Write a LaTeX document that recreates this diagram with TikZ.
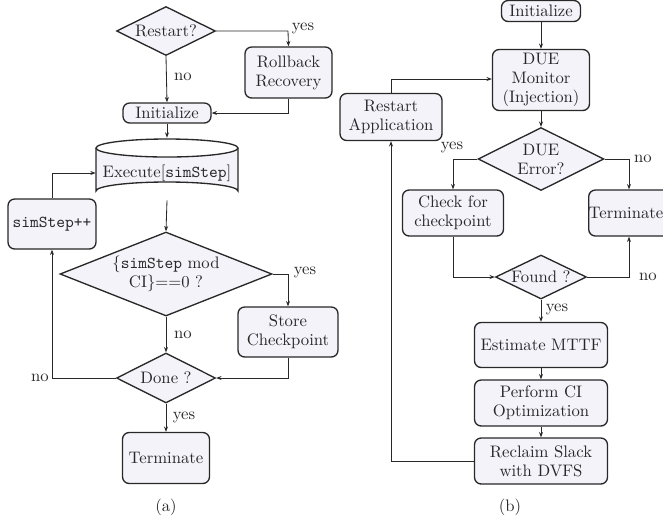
\documentclass[tikz,border=0pt]{standalone}
\usetikzlibrary{shapes.geometric,arrows.meta,calc}
\definecolor{boxfill}{RGB}{243,243,249}
\definecolor{ink}{RGB}{40,40,40}
\newlength\pxu
\setlength\pxu{0.6pt}
\begin{document}
\begin{tikzpicture}[x=0.6pt,y=-0.6pt,
  every node/.style={font=\fontsize{10}{11.4}\selectfont, text=ink},
  box/.style={draw=ink, fill=boxfill, rounded corners=4pt, line width=0.8pt, align=center, inner sep=0pt},
  dia/.style={draw=ink, fill=boxfill, diamond, line width=0.8pt, align=center, inner sep=0pt},
  conn/.style={draw=ink, line width=0.5pt, -{Stealth[length=3.2pt,width=2.4pt]}},
  lbl/.style={inner sep=0pt}]
\useasboundingbox (0,0) rectangle (663,521);

% ---------------- (a) ----------------
\node[dia, aspect=2, minimum width=99\pxu, minimum height=49\pxu] (restart) at (166,31) {Restart?};
\node[box, minimum width=87\pxu, minimum height=51\pxu] (rollback) at (288.5,72.5) {Rollback\\Recovery};
\node[box, minimum width=88\pxu, minimum height=20\pxu] (init1) at (167,113) {Initialize};
\node[minimum width=142\pxu, minimum height=62\pxu, inner sep=0pt] (exec) at (167,169) {};
\fill[boxfill] (96,148) -- (96,191) arc[start angle=180,end angle=360,x radius=71,y radius=9] -- (238,148) arc[start angle=0,end angle=180,x radius=71,y radius=9] -- cycle;
\draw[ink, line width=0.8pt] (167,148) ellipse[x radius=71,y radius=9];
\draw[ink, line width=0.8pt] (96,148) -- (96,191) arc[start angle=180,end angle=360,x radius=71,y radius=9] -- (238,148);
\node[lbl] (exectext) at (167,173) {Execute[\texttt{simStep}]};
\node[box, minimum width=88\pxu, minimum height=50\pxu] (simstep) at (52,224) {\texttt{simStep++}};
\node[dia, aspect=2.5, minimum width=212\pxu, minimum height=84\pxu] (mod) at (166,274) {\{\texttt{simStep} mod\\CI\}==0 ?};
\node[box, minimum width=100\pxu, minimum height=50\pxu] (store) at (288,332) {Store\\Checkpoint};
\node[dia, aspect=2, minimum width=99\pxu, minimum height=50\pxu] (done) at (166,378) {Done ?};
\node[box, minimum width=87\pxu, minimum height=51\pxu] (term1) at (166,458) {Terminate};
\node[lbl] (capa) at (166,507) {(a)};

\coordinate (rbx) at (288,31);
\draw[conn] (restart.east) -- (rbx) -- (rollback.north);
\node[lbl] at (303,28) {yes};
\draw[conn] (restart.south) -- (init1.north);
\node[lbl] at (183,77) {no};
\draw[conn] (rollback.south) |- (init1.east);
\draw[conn] (init1.south) -- (exec.north);
\draw[conn] (simstep.north) |- (exectext.west -| exec.west);
\draw[conn] (exec.south) -- (mod.north);
\draw[conn] (mod.east) -| (store.north);
\node[lbl] at (305,272) {yes};
\draw[conn] (mod.south) -- (done.north);
\node[lbl] at (183,335) {no};
\draw[conn] (store.south) |- (done.east);
\draw[conn] (done.west) -| (simstep.south);
\node[lbl] at (40,378) {no};
\draw[conn] (done.south) -- (term1.north);
\node[lbl] at (184,417) {yes};

% ---------------- (b) ----------------
\node[box, minimum width=79\pxu, minimum height=21\pxu] (init2) at (541,11) {Initialize};
\node[box, minimum width=97\pxu, minimum height=61\pxu] (monitor) at (541,80) {DUE\\Monitor\\(Injection)};
\node[box, minimum width=102\pxu, minimum height=47\pxu] (restartapp) at (391,117) {Restart\\Application};
\node[dia, aspect=2, minimum width=126\pxu, minimum height=63\pxu] (dueerr) at (541,159) {DUE\\Error?};
\node[box, minimum width=101\pxu, minimum height=46\pxu] (check) at (453,213) {Check for\\checkpoint};
\node[box, minimum width=80\pxu, minimum height=46\pxu] (term2) at (630,213) {Terminate\hspace*{8\pxu}};
\node[dia, aspect=2, minimum width=91\pxu, minimum height=44\pxu] (found) at (541,277) {Found ?};
\node[box, minimum width=133\pxu, minimum height=45\pxu] (estimate) at (541,345) {Estimate MTTF};
\node[box, minimum width=133\pxu, minimum height=46\pxu] (perform) at (541,403) {Perform CI\\Optimization};
\node[box, minimum width=133\pxu, minimum height=46\pxu] (reclaim) at (541,461) {Reclaim Slack\\with DVFS};
\node[lbl] (capb) at (510,507) {(b)};

\draw[conn] (init2.south) -- (monitor.north);
\draw[conn] (restartapp.north) |- ($(monitor.west)+(0,-1)$);
\draw[conn] (monitor.south) -- (dueerr.north);
\draw[conn] (dueerr.west) -| (check.north);
\node[lbl] at (452,147) {yes};
\draw[conn] (dueerr.east) -| (term2.north -| 629,0);
\node[lbl] at (643,159) {no};
\draw[conn] (check.south) |- (found.west);
\draw[conn] (found.east) -| (term2.south -| 629,0);
\node[lbl] at (648,277) {no};
\draw[conn] (found.south) -- (estimate.north);
\node[lbl] at (557,309) {yes};
\draw[conn] (estimate.south) -- (perform.north);
\draw[conn] (perform.south) -- (reclaim.north);
\draw[conn] (reclaim.west) -| (restartapp.south);
\end{tikzpicture}
\end{document}
